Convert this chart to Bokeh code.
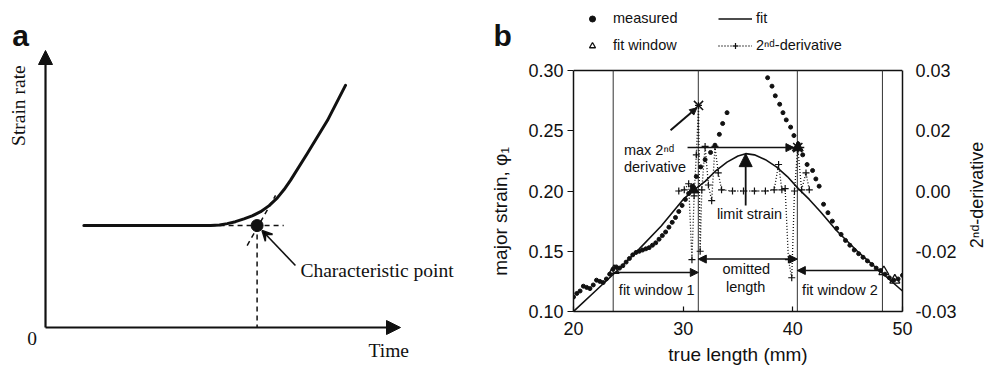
import math
from bokeh.plotting import figure
from bokeh.models import (Range1d, LinearAxis, FixedTicker, Arrow, NormalHead, VeeHead,
                          Legend, LegendItem, NumeralTickFormatter)
from bokeh.layouts import row
from bokeh.core.properties import value
from bokeh.embed import file_html
from bokeh.resources import INLINE

# ---------------- Panel a : schematic (arbitrary units) ----------------
curve_t = [1.08, 4.65, 4.90, 5.12, 5.35, 5.59, 5.82, 6.06, 6.30, 6.53, 6.72, 6.90, 7.37, 7.94, 8.45]
curve_s = [3.68, 3.68, 3.70, 3.75, 3.82, 3.92, 4.03, 4.18, 4.40, 4.68, 4.98, 5.31, 6.27, 7.47, 8.74]
char_t = 5.96
char_s = 3.68
hline_t = [4.65, 6.71]
tangent_t = [5.68, 6.48]
tangent_s = [2.96, 4.77]
axis_max = 10.0

# ---------------- Panel b : data ----------------
meas_x = [20.0, 20.3, 20.6, 20.9, 21.2, 21.5, 21.8, 22.1, 22.4, 22.7, 23.0, 23.3, 23.6, 23.9,
          24.2, 24.5, 24.8, 25.1, 25.4, 25.7, 26.0, 26.3, 26.6, 26.9, 27.2, 27.5, 27.8, 28.1,
          28.4, 28.7, 29.0, 29.3, 29.6, 29.9, 30.2, 30.5, 30.8,
          31.2, 31.6, 32.0, 32.5, 32.9, 33.3, 33.6, 34.0,
          37.7, 38.1, 38.4, 38.8, 39.1, 39.4, 39.8, 40.1, 40.5, 40.9, 41.3, 41.8, 42.1, 42.4,
          42.8, 43.2, 43.6, 44.0, 44.4, 44.8, 45.2, 45.6, 46.0, 46.4, 46.8, 47.2, 47.6, 48.0,
          48.4, 48.8, 49.2, 49.6, 50.0]
meas_y = [0.112, 0.115, 0.117, 0.121, 0.120, 0.119, 0.122, 0.126, 0.125, 0.124, 0.127, 0.131, 0.135, 0.137,
          0.136, 0.138, 0.141, 0.144, 0.147, 0.149, 0.150, 0.151, 0.152, 0.153, 0.155, 0.157, 0.160, 0.163,
          0.166, 0.170, 0.174, 0.178, 0.183, 0.188, 0.193, 0.198, 0.204,
          0.212, 0.220, 0.226, 0.232, 0.238, 0.247, 0.256, 0.265,
          0.294, 0.287, 0.279, 0.272, 0.265, 0.259, 0.253, 0.246, 0.239, 0.230, 0.222, 0.217, 0.210, 0.204,
          0.189, 0.182, 0.175, 0.169, 0.164, 0.159, 0.155, 0.151, 0.148, 0.145, 0.142, 0.139, 0.136, 0.134,
          0.131, 0.128, 0.126, 0.127, 0.130]

fit_x = [20, 22, 24, 26, 28, 30, 31, 32, 33, 34, 35, 35.7, 36.5, 37.5, 38.5, 39.5, 40.5, 41.5, 42.5, 44, 46, 48, 50]
fit_y = [0.100, 0.117, 0.134, 0.152, 0.171, 0.193, 0.201, 0.208, 0.217, 0.224, 0.229, 0.231, 0.230, 0.226,
         0.220, 0.212, 0.202, 0.193, 0.183, 0.167, 0.149, 0.133, 0.117]

d2_x = [29.6, 30.1, 30.5, 30.8, 31.0, 31.2, 31.4, 31.55, 31.7, 32.0, 32.3, 32.6, 32.9, 33.2, 33.5,
        34.5, 35.5, 36.5, 37.5, 38.3, 38.7, 39.0, 39.3, 39.6, 39.9, 40.15, 40.45, 40.8, 41.2, 41.5]
d2_y = [0.0000, 0.0003, 0.0018, -0.0171, -0.0012, 0.0090, 0.0213, -0.0150, 0.0003, 0.0111, 0.0015,
        -0.0024, 0.0111, 0.0045, 0.0003, 0.0000, 0.0000, 0.0000, 0.0000, 0.0003, 0.0066, 0.0003,
        0.0006, -0.0171, -0.0216, 0.0000, 0.0108, 0.0003, 0.0045, 0.0003]

win_open_x = [23.7, 48.3, 49.3]
win_open_y = [0.134, 0.133, 0.126]
win_fill_x = [30.95, 40.45]
win_fill_y = [0.201, 0.236]
star_x = [40.45]
star_y = [0.236]

window_bounds = [23.62, 31.38, 40.41, 48.17]

x_lo, x_hi = 20, 50
y_lo, y_hi = 0.10, 0.30
d_lo, d_hi = -0.03, 0.03
x_ticks = [20, 30, 40, 50]
y_ticks = [0.10, 0.15, 0.20, 0.25, 0.30]
d_ticks = [-0.03, -0.015, 0.0, 0.015, 0.03]
d_tick_labels = ["-0.03", "-0.02", "0.00", "0.02", "0.03"]

x_label = "true length (mm)"
y_label = "major strain, φ₁"
d_label = "2ⁿᵈ-derivative"

SERIF = "Liberation Serif"
SANS = "Liberation Sans"
INK = "#111111"

# ================= Panel a (also carries the letter b and the left label of b) =================
pa = figure(width=520, height=370, x_range=Range1d(-1.268, 13.380), y_range=Range1d(-1.552, 11.805),
            output_backend="svg", toolbar_location=None, min_border=0,
            x_axis_type=None, y_axis_type=None)
pa.frame_align = False
pa.outline_line_color = None
pa.background_fill_color = "white"
pa.border_fill_color = "white"

pa.add_layout(Arrow(x_start=0, y_start=0, x_end=axis_max, y_end=0, line_width=2.2, line_color=INK,
                    end=NormalHead(size=14, fill_color=INK, line_color=INK)))
pa.add_layout(Arrow(x_start=0, y_start=0, x_end=0, y_end=axis_max, line_width=2.2, line_color=INK,
                    end=NormalHead(size=14, fill_color=INK, line_color=INK)))

pa.line(curve_t, curve_s, line_width=3, line_color=INK, line_join="round", line_cap="round")
pa.line(hline_t, [char_s, char_s], line_width=1.5, line_color=INK, line_dash="5 4")
pa.line(tangent_t, tangent_s, line_width=1.5, line_color=INK, line_dash="5 4")
pa.line([char_t, char_t], [char_s, 0], line_width=1.5, line_color=INK, line_dash="5 4")
pa.scatter([char_t], [char_s], size=12, marker="circle", fill_color=INK, line_color=INK)
pa.add_layout(Arrow(x_start=7.04, y_start=2.24, x_end=6.10, y_end=3.50, line_width=1.6, line_color=INK,
                    end=VeeHead(size=10, line_color=INK, line_width=1.6)))

pa.text(x=[7.18], y=[2.06], text=["Characteristic point"], text_font=value(SERIF),
        text_font_size="19.5px", text_baseline="middle", text_align="left", text_color=INK)
pa.text(x=[-0.75], y=[8.01], text=["Strain rate"], angle=math.pi / 2, text_font=value(SERIF),
        text_font_size="19.5px", text_baseline="middle", text_align="center", text_color=INK)
pa.text(x=[-0.375], y=[-0.41], text=["0"], text_font=value(SERIF),
        text_font_size="19.5px", text_baseline="middle", text_align="center", text_color=INK)
pa.text(x=[9.1], y=[-0.83], text=["Time"], text_font=value(SERIF),
        text_font_size="19.5px", text_baseline="middle", text_align="left", text_color=INK)
pa.text(x=[-0.94, 12.62], y=[10.54, 10.54], text=["a", "b"], text_font=value(SANS), text_font_style="bold",
        text_font_size="30px", text_baseline="alphabetic", text_align="left", text_color=INK)
pa.text(x=[12.82], y=[4.19], text=[y_label], angle=math.pi / 2, text_font=value(SANS),
        text_font_size="19px", text_baseline="middle", text_align="center", text_color=INK)

# ================= Panel b =================
px_per_unit = 241.0 / (y_hi - y_lo)
y_top = y_lo + 311.0 / px_per_unit
d_top = d_lo + (y_top - y_lo) * (d_hi - d_lo) / (y_hi - y_lo)

pb = figure(width=443, height=370, x_range=Range1d(x_lo, x_hi), y_range=Range1d(y_lo, y_top),
            output_backend="svg", toolbar_location=None,
            min_border_left=53, min_border_right=61, min_border_top=0, min_border_bottom=59)
pb.frame_align = False
pb.extra_y_ranges = {"d": Range1d(d_lo, d_top)}
pb.grid.visible = False
pb.outline_line_color = None
pb.background_fill_color = "white"
pb.border_fill_color = "white"

for ax in (pb.xaxis[0], pb.yaxis[0]):
    ax.axis_line_width = 1.5
    ax.axis_line_color = INK
    ax.major_tick_line_color = INK
    ax.major_tick_line_width = 1.2
    ax.minor_tick_line_color = None
    ax.major_label_text_font = SANS
    ax.major_label_text_font_size = "18px"
    ax.major_label_text_color = INK
    ax.axis_label_text_font = SANS
    ax.axis_label_text_font_size = "19px"
    ax.axis_label_text_font_style = "normal"
    ax.axis_label_text_color = INK

pb.xaxis[0].ticker = FixedTicker(ticks=x_ticks)
pb.xaxis[0].major_tick_in = 5
pb.xaxis[0].major_tick_out = 0
pb.xaxis[0].major_label_standoff = 10
pb.xaxis[0].axis_label = x_label
pb.xaxis[0].axis_label_standoff = 6

pb.yaxis[0].ticker = FixedTicker(ticks=y_ticks)
pb.yaxis[0].bounds = (y_lo, y_hi)
pb.yaxis[0].formatter = NumeralTickFormatter(format="0.00")
pb.yaxis[0].major_tick_in = 0
pb.yaxis[0].major_tick_out = 6
pb.yaxis[0].major_label_standoff = 4

rax = LinearAxis(y_range_name="d", ticker=FixedTicker(ticks=d_ticks), bounds=(d_lo, d_hi),
                 major_label_overrides={t: l for t, l in zip(d_ticks, d_tick_labels)},
                 major_tick_in=0, major_tick_out=0, minor_tick_line_color=None,
                 axis_line_color=INK, axis_line_width=1.5,
                 major_label_text_font=SANS, major_label_text_font_size="18px",
                 major_label_text_color=INK, major_label_standoff=13)
pb.add_layout(rax, "right")

pb.line([x_lo, x_hi], [y_hi, y_hi], line_color=INK, line_width=1.5)
pb.segment(x0=window_bounds, y0=[y_lo] * len(window_bounds), x1=window_bounds,
           y1=[y_hi] * len(window_bounds), line_color="#333333", line_width=1)

r_fit = pb.line(fit_x, fit_y, line_color=INK, line_width=1.6)
r_meas = pb.scatter(meas_x, meas_y, marker="circle", size=4, fill_color=INK, line_color=INK)
r_d2l = pb.line(d2_x, d2_y, y_range_name="d", line_color=INK, line_width=1.3, line_dash="1 2")
r_d2p = pb.scatter(d2_x, d2_y, y_range_name="d", marker="cross", size=7, line_color=INK, line_width=1.2)
r_win = pb.scatter(win_open_x, win_open_y, marker="triangle", size=10, fill_color="white",
                   fill_alpha=0, line_color=INK, line_width=1.3)
pb.scatter(win_fill_x, win_fill_y, marker="triangle", size=11, fill_color=INK, line_color=INK)
pb.scatter(star_x, star_y, marker="asterisk", size=13, line_color=INK, line_width=1.5)

i_max = max(range(len(d2_y)), key=lambda i: d2_y[i])
pb.scatter([d2_x[i_max]], [d2_y[i_max]], y_range_name="d", marker="x", size=13, line_color=INK, line_width=1.5)
i_pk = max(range(len(fit_y)), key=lambda i: fit_y[i])

max_strain_level = y_lo + (d2_y[i_max] - d_lo) * (y_hi - y_lo) / (d_hi - d_lo)
pb.add_layout(Arrow(x_start=28.85, y_start=0.2505, x_end=d2_x[i_max] - 0.15, y_end=max_strain_level - 0.002,
                    line_width=2, line_color=INK, end=NormalHead(size=7, fill_color=INK, line_color=INK)))
pb.add_layout(Arrow(x_start=30.4, y_start=0.236, x_end=40.1, y_end=0.236, line_width=1.5, line_color=INK,
                    end=NormalHead(size=8, fill_color=INK, line_color=INK)))
pb.add_layout(Arrow(x_start=fit_x[i_pk], y_start=0.188, x_end=fit_x[i_pk], y_end=fit_y[i_pk],
                    line_width=1.8, line_color=INK, end=NormalHead(size=13, fill_color=INK, line_color=INK)))
pb.add_layout(Arrow(x_start=window_bounds[1], y_start=0.1435, x_end=window_bounds[2], y_end=0.1435,
                    line_width=1.5, line_color=INK, start=NormalHead(size=8, fill_color=INK, line_color=INK),
                    end=NormalHead(size=8, fill_color=INK, line_color=INK)))
pb.add_layout(Arrow(x_start=window_bounds[0], y_start=0.1324, x_end=window_bounds[1], y_end=0.1324,
                    line_width=1.5, line_color=INK, end=NormalHead(size=8, fill_color=INK, line_color=INK)))
pb.add_layout(Arrow(x_start=window_bounds[3], y_start=0.134, x_end=window_bounds[2], y_end=0.134,
                    line_width=1.5, line_color=INK, end=NormalHead(size=8, fill_color=INK, line_color=INK)))

ann_x = [24.6, 24.6, 36.05, 35.76, 35.7, 27.59, 44.3]
ann_y = [0.234, 0.220, 0.1805, 0.135, 0.120, 0.1175, 0.1175]
ann_t = ["max 2ⁿᵈ", "derivative", "limit strain", "omitted", "length", "fit window 1", "fit window 2"]
ann_a = ["left", "left", "center", "center", "center", "center", "center"]
pb.text(x=ann_x, y=ann_y, text=ann_t, text_align=ann_a, text_baseline="middle",
        text_font=value(SANS), text_font_size="14.5px", text_color=INK)

legend = Legend(items=[LegendItem(label="measured", renderers=[r_meas]),
                       LegendItem(label="fit", renderers=[r_fit]),
                       LegendItem(label="fit window", renderers=[r_win]),
                       LegendItem(label="2ⁿᵈ-derivative", renderers=[r_d2l, r_d2p])],
                orientation="horizontal", ncols=2, location=(0, 254),
                glyph_width=34, glyph_height=15, label_height=20, label_width=98,
                label_standoff=4, spacing=7, padding=2, margin=0,
                border_line_alpha=0, background_fill_alpha=0,
                label_text_font=SANS, label_text_font_size="14.5px", label_text_color=INK)
pb.add_layout(legend, "center")

# ================= right label strip of panel b =================
pc = figure(width=26, height=370, x_range=Range1d(0, 26), y_range=Range1d(0, 370),
            output_backend="svg", toolbar_location=None, min_border=0,
            x_axis_type=None, y_axis_type=None)
pc.frame_align = False
pc.outline_line_color = None
pc.background_fill_color = "white"
pc.border_fill_color = "white"
pc.text(x=[13.5], y=[175.5], text=[d_label], angle=math.pi / 2, text_font=value(SANS),
        text_font_size="18px", text_baseline="middle", text_align="center", text_color=INK)

layout = row(pa, pb, pc)
open("out.html", "w").write(file_html(layout, INLINE))
